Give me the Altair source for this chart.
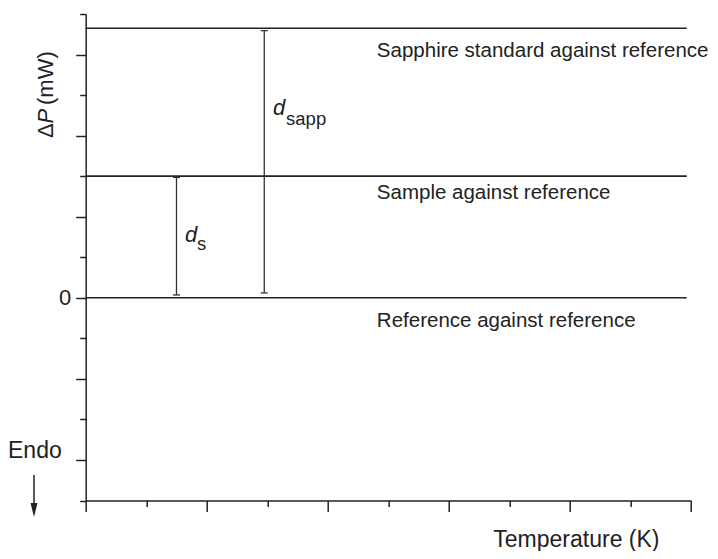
import altair as alt
import pandas as pd

FONT = "Liberation Sans"
INK = "#222222"

# Horizontal DSC traces (arbitrary units)
line_names = ["Reference against reference", "Sample against reference",
              "Sapphire standard against reference"]
line_levels = [0.0, 3.0, 6.65]
line_start = [0.0, 0.0, 0.0]
line_end = [9.93, 9.93, 9.93]
label_x = [4.81, 4.81, 4.81]
label_y = [-0.71, 2.43, 5.95]

# Displacement bars d_s and d_sapp
bar_x = [1.5, 2.95]
bar_low = [0.07, 0.12]
bar_high = [2.97, 6.59]
bar_symbol = ["d", "d"]
bar_sub = ["s", "sapp"]
sym_x = [1.64, 3.095]
sym_y = [1.38, 4.51]
sub_x = [1.84, 3.31]
sub_y = [1.18, 4.26]

x_ticks = list(range(0, 11))
y_ticks = list(range(-5, 8))
x_domain = [0, 10]
y_domain = [-5, 7]

lines_df = pd.DataFrame({"name": line_names, "level": line_levels,
                         "x0": line_start, "x1": line_end,
                         "lx": label_x, "ly": label_y})
bars_df = pd.DataFrame({"bx": bar_x, "lo": bar_low, "hi": bar_high,
                        "sym": bar_symbol, "sub": bar_sub,
                        "sx": sym_x, "sy": sym_y, "ux": sub_x, "uy": sub_y})
caps_df = pd.DataFrame({"bx": bar_x + bar_x, "cy": bar_low + bar_high})

xs = alt.Scale(domain=x_domain, nice=False, zero=False)
ys = alt.Scale(domain=y_domain, nice=False, zero=False)

x_axis = alt.Axis(values=x_ticks, labels=False, title=None, grid=False,
                  tickSize={"condition": {"test": "datum.value % 2 === 0", "value": 11}, "value": 6},
                  tickColor=INK, domainColor=INK, tickWidth=1.5, domainWidth=1.5)
y_axis = alt.Axis(values=y_ticks, title=None, grid=False,
                  labelExpr="datum.value === 0 ? '0' : ''",
                  labelFont=FONT, labelFontSize=22, labelColor=INK, labelPadding=5,
                  tickSize={"condition": {"test": "datum.value % 2 === 0", "value": 10}, "value": 6},
                  tickColor=INK, domainColor=INK, tickWidth=1.5, domainWidth=1.5)

base_x = alt.X("x0:Q", scale=xs, axis=x_axis)

lines = alt.Chart(lines_df).mark_rule(color=INK, strokeWidth=1.6).encode(
    x=base_x, x2="x1:Q",
    y=alt.Y("level:Q", scale=ys, axis=y_axis))

labels = alt.Chart(lines_df).mark_text(
    align="left", baseline="alphabetic", font=FONT, fontSize=20.5, color=INK).encode(
    x=alt.X("lx:Q", scale=xs), y=alt.Y("ly:Q", scale=ys), text="name:N")

bars = alt.Chart(bars_df).mark_rule(color="#333333", strokeWidth=1.3).encode(
    x=alt.X("bx:Q", scale=xs), y=alt.Y("lo:Q", scale=ys), y2="hi:Q")

caps = alt.Chart(caps_df).mark_tick(orient="horizontal", size=7, thickness=1.3,
                                    color="#333333", opacity=1).encode(
    x=alt.X("bx:Q", scale=xs), y=alt.Y("cy:Q", scale=ys))

syms = alt.Chart(bars_df).mark_text(
    align="left", baseline="alphabetic", font=FONT, fontSize=22, fontStyle="italic", color=INK).encode(
    x=alt.X("sx:Q", scale=xs), y=alt.Y("sy:Q", scale=ys), text="sym:N")

subs = alt.Chart(bars_df).mark_text(
    align="left", baseline="alphabetic", font=FONT, fontSize=18.5, color=INK).encode(
    x=alt.X("ux:Q", scale=xs), y=alt.Y("uy:Q", scale=ys), text="sub:N")

def note(text, x, y, size, style="normal", angle=0):
    return alt.Chart(pd.DataFrame({"t": [text]})).mark_text(
        align="left", baseline="alphabetic", font=FONT, fontSize=size,
        fontStyle=style, color=INK, angle=angle).encode(
        text="t:N", x=alt.value(x), y=alt.value(y))

delta = note("Δ", -32.7, 124, 22, angle=270)
pee = note("P", -32.7, 109.5, 22, style="italic", angle=270)
unit = note("(mW)", -32.7, 91, 22, angle=270)
endo = note("Endo", -77.7, 444.3, 23)
temp = note("Temperature (K)", 407.6, 532.5, 23)

arrow_df = pd.DataFrame({"a": [0]})
arrow_line = alt.Chart(arrow_df).mark_rule(color=INK, strokeWidth=1.5).encode(
    x=alt.value(-51.7), y=alt.value(461), y2=alt.value(492))
arrow_head = alt.Chart(arrow_df).mark_point(
    shape="M-0.5,-1L0.5,-1L0,1Z", size=196, filled=True, color=INK, opacity=1).encode(
    x=alt.value(-51.7), y=alt.value(496))

chart = alt.layer(lines, labels, bars, caps, syms, subs, delta, pee, unit,
                  endo, temp, arrow_line, arrow_head).properties(
    width=605.3, height=486.5,
    autosize=alt.AutoSizeParams(type="none"),
    padding={"left": 77.7, "top": 6, "right": 19, "bottom": 50.5},
    background="white",
).configure_view(stroke=None)

chart.save("out.html", embed_options={"renderer": "svg", "actions": False})
